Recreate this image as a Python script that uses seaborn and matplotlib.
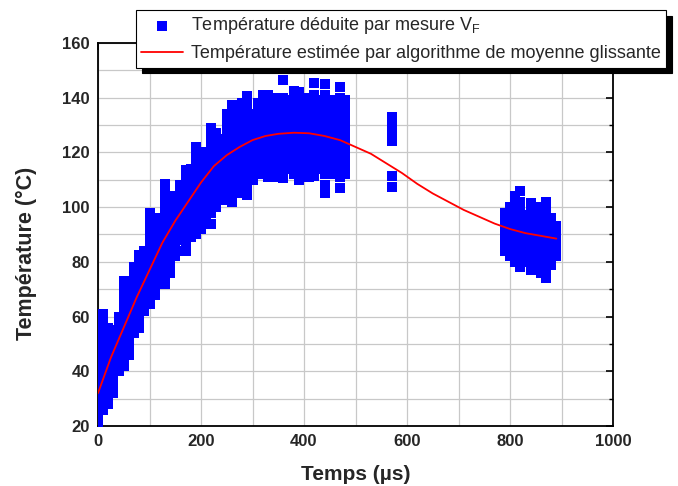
import matplotlib
matplotlib.use("Agg")
import matplotlib.pyplot as plt
import seaborn as sns
import pandas as pd
from matplotlib.ticker import MultipleLocator

# --- data: measured temperature (one column of points per time, µs) ---
t_cols = [0, 10, 20, 30, 40, 50, 60, 70, 80, 90, 100, 110, 120, 130, 140, 150, 160, 170,
          180, 190, 200, 210, 220, 230, 240, 250, 260, 270, 280, 290, 300, 310, 320, 330,
          340, 350, 360, 370, 380, 390, 400, 410, 420, 430, 440, 450, 460, 470, 480,
          570,
          790, 800, 810, 820, 830, 840, 850, 860, 870, 880, 890]
T_cols = [
    [20, 23, 26, 29, 32, 35, 38, 41, 44, 47, 50, 53, 56, 59, 61],
    [26, 29, 32, 35, 38, 41, 44, 47, 50, 53, 56, 59, 61],
    [28, 31, 34, 37, 40, 43, 46, 49, 52, 55, 56],
    [32, 35, 38, 41, 44, 47, 50, 53, 55],
    [40, 43, 46, 49, 52, 55, 58, 60],
    [42, 45, 48, 51, 54, 57, 60, 63, 66, 69, 72, 73],
    [46, 49, 52, 55, 58, 61, 64, 67, 70, 71],
    [54, 57, 60, 63, 66, 69, 72, 75, 78],
    [56, 59, 62, 65, 68, 71, 74, 77, 79, 82.5],
    [62, 65, 68, 71, 74, 77, 80, 83, 84],
    [64.5, 67, 70, 73, 76, 79, 82, 85, 88, 91, 94, 97, 98],
    [68, 71, 74, 77, 80, 83, 86, 89, 92, 95, 96],
    [73, 76, 79, 82, 85, 88, 90],
    [72, 75, 78, 81, 84, 87, 90, 93, 96, 99, 102, 105, 108.5],
    [76, 79, 82, 85, 88, 91, 94, 97, 100, 103, 104],
    [82, 85, 88, 91, 94, 97, 100, 103, 104],
    [84, 88, 91, 94, 97, 100, 103, 106, 108],
    [84, 87, 90, 93, 96, 99, 102, 105, 108, 111, 113.5],
    [89, 92, 95, 98, 101, 104, 107, 110, 113, 114],
    [90, 93, 96, 99, 102, 105, 108, 111, 114, 117, 120, 122],
    [92, 95, 98, 101, 104, 107, 110, 113, 116, 119, 120],
    [96, 99, 102, 105, 108, 111, 114, 117, 118],
    [94, 98, 101, 104, 107, 110, 113, 116, 119, 122, 125, 128, 129],
    [100, 103, 106, 109, 112, 115, 118, 121, 124, 127],
    [102.5, 105, 108, 111, 114, 117, 120, 123, 125],
    [103, 106, 109, 112, 115, 118, 121, 124, 127, 130, 133, 134],
    [102, 105, 108, 111, 114, 117, 120, 123, 126, 129, 132, 135, 137.5],
    [105, 108, 111, 114, 117, 120, 123, 126, 129, 132, 133],
    [108, 111, 114, 117, 120, 123, 126, 129, 132, 135, 138],
    [104.5, 108, 110, 113, 116, 119, 122, 125, 128, 131, 134, 137, 140.5],
    [110, 113, 116, 119, 122, 125, 128, 131, 134],
    [112, 115, 118, 121, 124, 127, 130, 133, 136, 138],
    [112.5, 115, 118, 121, 124, 127, 130, 133, 136, 139, 141],
    [111, 114, 117, 120, 123, 126, 129, 132, 135, 138, 141],
    [113, 116, 119, 122, 125, 128, 131, 134, 137, 138],
    [111, 115, 117, 120, 123, 126, 129, 132, 135, 138, 140],
    [110.5, 114, 116, 119, 122, 125, 128, 131, 134, 137, 140, 146.5],
    [114, 117, 120, 123, 126, 129, 132, 135, 138, 139],
    [112, 115, 118, 121, 124, 127, 130, 133, 136, 139, 142.5],
    [110, 113, 116, 119, 122, 125, 128, 131, 134, 137, 140, 142],
    [114, 117, 120, 123, 126, 129, 132, 135, 138],
    [111, 115, 118, 121, 124, 127, 130, 133, 136, 139, 140],
    [111.5, 114, 117, 120, 123, 126, 129, 132, 135, 138, 141, 145.5],
    [114, 117, 120, 123, 126, 129, 132, 135, 138, 139],
    [105, 108, 112, 114, 117, 120, 123, 126, 129, 132, 135, 138, 141, 145],
    [112, 115, 118, 121, 124, 127, 130, 133, 136, 137],
    [114, 117, 120, 123, 126, 129, 132, 135, 138, 139],
    [107, 111, 113, 116, 119, 122, 125, 128, 131, 134, 137, 140, 144],
    [112, 115, 118, 121, 124, 127, 130, 133, 136, 139],
    [107.5, 111.5, 124, 128, 130.5, 133],
    [84, 87, 90, 93, 96, 98],
    [82, 85, 88, 91, 94, 97, 100],
    [80, 83, 86, 89, 92, 95, 98, 101, 104],
    [78, 81, 84, 87, 90, 93, 96, 99, 102, 106],
    [80, 83, 86, 89, 92, 95, 97],
    [77, 80, 83, 86, 89, 92, 95, 98, 101.5],
    [79, 82, 85, 88, 91, 94, 96],
    [76, 79, 82, 85, 88, 91, 94, 97, 100],
    [74, 77, 80, 83, 86, 89, 92, 95, 98, 101, 102],
    [79, 82, 85, 88, 91, 94, 96],
    [82, 85, 88, 91, 93],
]

# --- data: moving-average estimate ---
t_est = [0, 25, 50, 75, 100, 125, 150, 175, 200, 225, 250, 275, 300, 325, 350, 380,
         410, 440, 470, 500, 530, 560, 590, 620, 650, 680, 710, 740, 770, 800, 830, 860, 890]
T_est = [32, 45, 56, 67, 77, 87, 95, 102, 109, 115, 119, 122, 124.5, 126, 126.8, 127.2,
         127, 126, 124.5, 122, 119.5, 116, 112.5, 108.5, 105, 102, 99, 96.5, 94, 92, 90.5, 89.5, 88.5]

label_mes = "Température déduite par mesure V$_\\mathregular{F}$"
label_est = "Température estimée par algorithme de moyenne glissante"

rows = [(t, T) for t, col in zip(t_cols, T_cols) for T in col]
df_mes = pd.DataFrame(rows, columns=["t", "T"])
df_est = pd.DataFrame({"t": t_est, "T": T_est})

sns.set_style("white")
plt.rcParams["font.family"] = ["Liberation Sans", "DejaVu Sans"]
plt.rcParams["mathtext.fontset"] = "custom"
plt.rcParams["mathtext.rm"] = "Liberation Sans"

fig = plt.figure(figsize=(6.78, 4.86), dpi=100)
ax = fig.add_axes([98 / 678, 60 / 486, 515 / 678, 383 / 486])

sns.scatterplot(data=df_mes, x="t", y="T", marker="s", s=50, color="#0000ff",
                linewidth=0, ax=ax, label=label_mes, zorder=3)
sns.lineplot(data=df_est, x="t", y="T", color="#ff0000", linewidth=1.3, ax=ax,
             label=label_est, zorder=4)

ax.set_xlim(0, 1000)
ax.set_ylim(20, 160)
ax.xaxis.set_major_locator(MultipleLocator(200))
ax.xaxis.set_minor_locator(MultipleLocator(100))
ax.yaxis.set_major_locator(MultipleLocator(20))
ax.yaxis.set_minor_locator(MultipleLocator(10))
ax.grid(True, which="both", color="#c8c8c8", linewidth=0.9, zorder=0)
ax.set_axisbelow(True)

ax.tick_params(which="both", direction="in", top=True, right=True, color="black")
ax.tick_params(which="major", length=5, width=1.2, labelsize=12, pad=6)
ax.tick_params(which="minor", length=3, width=1.0)
for lab in ax.get_xticklabels() + ax.get_yticklabels():
    lab.set_fontweight("bold")
for sp in ax.spines.values():
    sp.set_linewidth(1.3)
    sp.set_color("black")

ax.set_xlabel("Temps (µs)", fontsize=15, fontweight="bold", labelpad=11)
ax.set_ylabel("Température (°C)", fontsize=15.5, fontweight="bold")
ax.yaxis.set_label_coords(-0.118, 0.45)

leg = ax.legend(loc="upper left", bbox_to_anchor=(136 / 678, 1 - 10 / 486),
                bbox_transform=fig.transFigure,
                frameon=True, fancybox=False, edgecolor="black", framealpha=1,
                shadow={"color": "black", "alpha": 1, "ox": 4, "oy": -4},
                fontsize=13, borderpad=0.3, handlelength=2.3, handletextpad=0.45,
                labelspacing=0.5, borderaxespad=0)
leg.get_frame().set_linewidth(0.8)
leg.set_zorder(10)

fig.savefig("out.png", dpi=100)
